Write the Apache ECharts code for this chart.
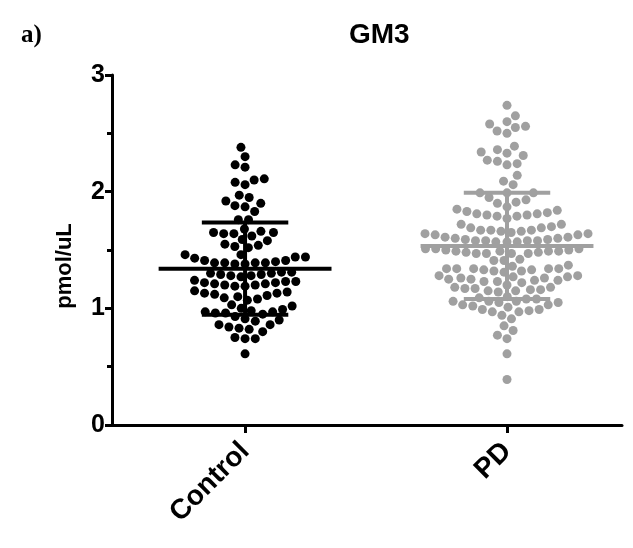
<!DOCTYPE html>
<html>
<head>
<meta charset="utf-8">
<script src="https://cdn.jsdelivr.net/npm/echarts@6/dist/echarts.min.js"></script>
<style>
  html, body { margin: 0; padding: 0; background: #fff; }
  #chart { width: 633px; height: 548px; }
</style>
</head>
<body>
<div id="chart"></div>
<script>
const groups = ['Control', 'PD'];
const groupColors = ['#000000', '#a0a0a0'];
const yTicks = [0, 1, 2, 3];

// summary lines (mean, SD)
const groupMeans = [1.34, 1.535];
const groupSDs = [0.395, 0.455];

const controlValues = [
    2.38, 2.30, 2.23, 2.21, 2.11, 2.10, 2.08, 2.06, 1.97, 1.95, 1.92, 1.90, 1.88, 1.87, 1.83, 1.76, 1.76,
    1.65, 1.64, 1.62, 1.66, 1.68, 1.59, 1.64, 1.65,
    1.58, 1.55, 1.54, 1.53, 1.52,
    1.46, 1.46,
    1.44, 1.43, 1.41, 1.41, 1.40, 1.39, 1.39, 1.39, 1.38, 1.38, 1.39, 1.44,
    1.31, 1.30, 1.29, 1.28, 1.27, 1.29, 1.30, 1.31, 1.28,
    1.23, 1.22, 1.21, 1.20, 1.19, 1.24, 1.23, 1.21, 1.20, 1.19, 1.22,
    1.15, 1.12, 1.10, 1.08, 1.14, 1.13, 1.07, 1.09, 1.11, 1.13,
    1.02, 0.99, 0.97, 0.96, 0.95, 0.96, 0.97, 0.98, 1.00, 1.03,
    0.93, 0.90, 0.86, 0.84, 0.80, 0.83, 0.86, 0.89, 0.91, 0.82,
    0.74, 0.74, 0.75,
    0.61
];

const pdValues = [
    2.74, 2.65, 2.60, 2.58, 2.55, 2.50, 2.52, 2.56, 2.39, 2.31, 2.34, 2.33, 2.36, 2.26,
    2.23, 2.24, 2.27, 2.14, 2.09, 2.06, 1.99, 1.99, 1.99, 1.95, 1.93, 1.90, 1.91,
    1.85, 1.83, 1.81, 1.80, 1.79, 1.77, 1.79, 1.80, 1.81, 1.82, 1.84, 1.87,
    1.72, 1.69, 1.67, 1.67, 1.66, 1.64, 1.63, 1.63, 1.64, 1.65, 1.66, 1.67, 1.69, 1.70, 1.72,
    1.61, 1.60, 1.59, 1.58, 1.58, 1.57, 1.57, 1.57, 1.58, 1.58, 1.59, 1.60, 1.61,
    1.51, 1.50, 1.49, 1.49, 1.48, 1.47, 1.47, 1.47, 1.47, 1.48, 1.49, 1.49, 1.50, 1.51, 1.51,
    1.41, 1.37, 1.34, 1.34, 1.34, 1.36, 1.41, 1.42,
    1.34, 1.33, 1.32, 1.31, 1.32, 1.33, 1.34,
    1.28, 1.27, 1.26, 1.25, 1.24, 1.23, 1.23, 1.24, 1.25, 1.26, 1.27, 1.28,
    1.22, 1.18, 1.14, 1.17, 1.16, 1.15, 1.15, 1.16, 1.17, 1.18, 1.20,
    1.10, 1.09, 1.08, 1.06, 1.06, 1.05, 1.05, 1.06, 1.08,
    1.03, 1.01, 0.99, 0.97, 0.94, 0.91, 0.97, 0.98, 0.99, 1.02, 1.03,
    0.85, 0.81, 0.77, 0.74, 0.61, 0.39
];

const font = '"Liberation Sans", Arial, sans-serif';
const chart = echarts.init(document.getElementById('chart'), null, { renderer: 'canvas' });

const baseOption = {
    animation: false,
    backgroundColor: '#ffffff',
    title: [
        {
            text: 'a)', left: 16, top: 18,
            textStyle: { fontFamily: '"Liberation Serif", "Times New Roman", serif', fontWeight: 'bold', fontSize: 25, color: '#000' }
        },
        {
            text: 'GM3', left: 344, top: 16,
            textStyle: { fontFamily: font, fontWeight: 'bold', fontSize: 28, color: '#000' }
        }
    ],
    grid: { left: 112, right: 11, top: 75, bottom: 123 },
    xAxis: {
        type: 'value',
        min: -0.508,
        max: 1.439,
        splitLine: { show: false },
        axisLine: { onZero: false, lineStyle: { color: '#000', width: 3 } },
        axisTick: { customValues: [0, 1], length: 8, lineStyle: { color: '#000', width: 3 } },
        axisLabel: {
            customValues: [0, 1],
            formatter: (v) => groups[Math.round(v)],
            rotate: 45,
            margin: 22,
            fontFamily: font, fontWeight: 'bold', fontSize: 28, color: '#000'
        }
    },
    yAxis: {
        type: 'value',
        min: 0,
        max: 3,
        interval: 1,
        name: 'pmol/uL',
        nameLocation: 'middle',
        nameRotate: 90,
        nameGap: 36,
        nameTextStyle: { fontFamily: font, fontWeight: 'bold', fontSize: 22, color: '#000', padding: [0, 32, 0, 0] },
        splitLine: { show: false },
        axisLine: { show: true, onZero: false, lineStyle: { color: '#000', width: 3 } },
        axisTick: { length: 7, lineStyle: { color: '#000', width: 3 } },
        minorTick: { show: true, splitNumber: 2, length: 5, lineStyle: { color: '#000', width: 3 } },
        axisLabel: {
            margin: 7,
            formatter: (v) => (yTicks.includes(v) ? String(v) : ''),
            fontFamily: font, fontWeight: 'bold', fontSize: 25, color: '#000'
        }
    },
    series: []
};

chart.setOption(baseOption);

// pixel scale of the axes, used for the swarm layout
const p0 = chart.convertToPixel({ xAxisIndex: 0, yAxisIndex: 0 }, [0, 0]);
const p1 = chart.convertToPixel({ xAxisIndex: 0, yAxisIndex: 0 }, [1, 1]);
const pxX = Math.abs(p1[0] - p0[0]);
const pxY = Math.abs(p1[1] - p0[1]);

// deterministic beeswarm: each dot takes the free spot closest to the group centre
function swarm(values, center, gap) {
    const order = values.map((v, i) => i).sort((a, b) => values[a] - values[b]);
    const placed = [];
    const out = [];
    order.forEach((i, k) => {
        const y = values[i] * pxY;
        const cands = [0];
        placed.forEach((p) => {
            const dy = Math.abs(p.y - y);
            if (dy < gap) {
                const dx = Math.sqrt(gap * gap - dy * dy);
                cands.push(p.x + dx, p.x - dx);
            }
        });
        const side = k % 2 === 0 ? 1 : -1;
        cands.sort((a, b) => (Math.abs(a) - Math.abs(b)) || (side * (b - a)));
        const x = cands.find((c) => placed.every((p) => (p.x - c) ** 2 + (p.y - y) ** 2 >= gap * gap - 0.01));
        placed.push({ x, y });
        out.push([center + x / pxX, values[i]]);
    });
    return out;
}

const gap = 10.2;
const controlPoints = swarm(controlValues, 0, gap);
const pdPoints = swarm(pdValues, 1, gap);

const summary = groups.map((g, i) => [i, groupMeans[i], groupSDs[i]]);

function renderSummary(params, api) {
    const g = api.value(0);
    const mean = api.value(1);
    const sd = api.value(2);
    const color = groupColors[params.dataIndex];
    const meanHalf = 0.33;
    const sdHalf = 0.165;
    const style = { stroke: color, lineWidth: 4 };
    const seg = (x1, y1, x2, y2) => {
        const a = api.coord([x1, y1]);
        const b = api.coord([x2, y2]);
        return { type: 'line', shape: { x1: a[0], y1: a[1], x2: b[0], y2: b[1] }, style };
    };
    return {
        type: 'group',
        children: [
            seg(g, mean - sd, g, mean + sd),
            seg(g - meanHalf, mean, g + meanHalf, mean),
            seg(g - sdHalf, mean + sd, g + sdHalf, mean + sd),
            seg(g - sdHalf, mean - sd, g + sdHalf, mean - sd)
        ]
    };
}

chart.setOption({
    series: [
        {
            name: groups[0],
            type: 'scatter',
            symbolSize: 9,
            itemStyle: { color: groupColors[0], opacity: 1 },
            data: controlPoints,
            z: 2
        },
        {
            name: groups[1],
            type: 'scatter',
            symbolSize: 9,
            itemStyle: { color: groupColors[1], opacity: 1 },
            data: pdPoints,
            z: 2
        },
        {
            type: 'custom',
            renderItem: renderSummary,
            data: summary,
            z: 3,
            silent: true
        }
    ]
});
</script>
</body>
</html>
